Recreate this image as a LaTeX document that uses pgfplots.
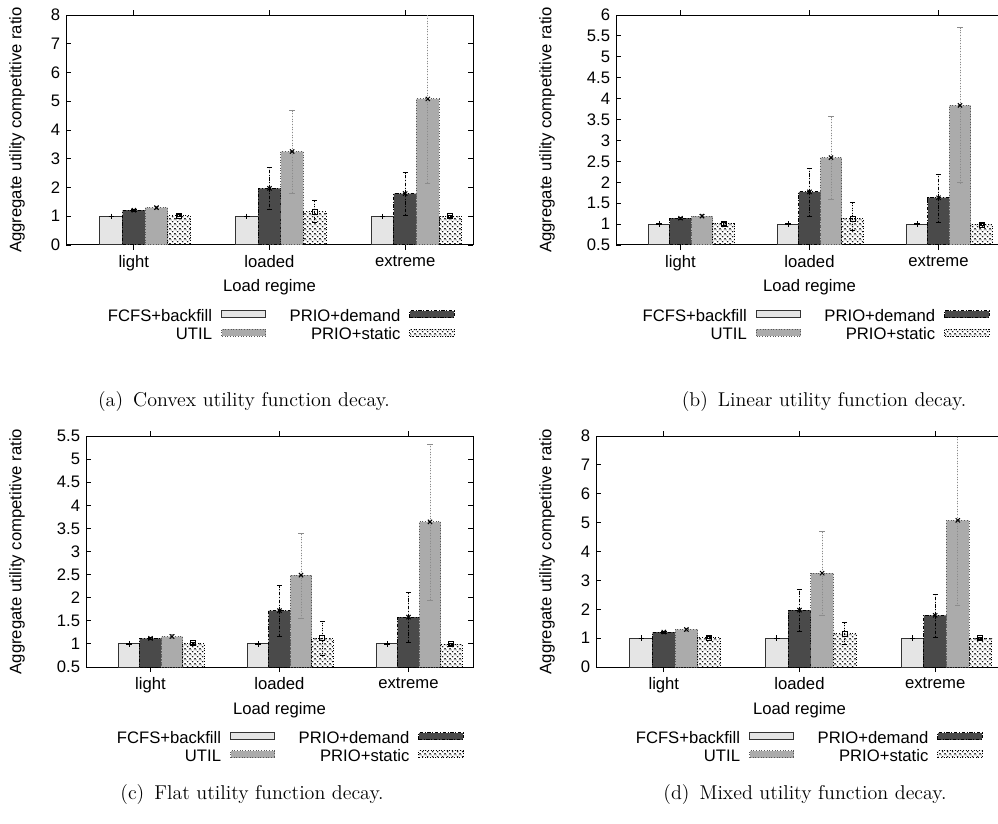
\documentclass[border=0pt]{standalone}
\usepackage{fontspec}
\setsansfont{Liberation Sans}
\usepackage{pgfplots}
\pgfplotsset{compat=1.18}
\usetikzlibrary{patterns}
\definecolor{cfcfs}{HTML}{E5E5E5}
\definecolor{cdem}{HTML}{4A4A4A}
\definecolor{cutil}{HTML}{ABABAB}
\pgfplotsset{
  leg/.style={legend image code/.code={\draw[##1] (0pt,-0.6pt) rectangle (26.6pt,3.6pt);}},
  sfcfs/.style={fill=cfcfs, draw=black!80, line width=0.6pt, mark=+,
    mark options={solid, black, mark size=1.6pt, line width=0.5pt},
    error bars/error bar style={black, solid, line width=0.4pt}, leg},
  sdem/.style={fill=cdem, draw=black, line width=0.6pt, dash pattern=on 2pt off 1pt on 0.6pt off 1pt, mark=x,
    mark options={solid, black, mark size=1.8pt, line width=0.6pt},
    error bars/error bar style={black, line width=0.5pt, dash pattern=on 2pt off 1pt on 0.6pt off 1pt}, leg},
  sutil/.style={fill=cutil, draw=black!65, line width=0.6pt, densely dotted, mark=x,
    mark options={solid, black, mark size=1.8pt, line width=0.6pt},
    error bars/error bar style={black!45, line width=0.6pt, densely dotted}, leg},
  sstat/.style={pattern=crosshatch, pattern color=black, draw=black, line width=0.6pt, densely dotted, mark=square,
    mark options={solid, black, mark size=1.5pt, line width=0.6pt},
    error bars/error bar style={black, line width=0.5pt, densely dotted}, leg},
  panel/.style={
    anchor=south west, scale only axis,
    xmin=-0.5, xmax=2.5, xtick={0,1,2}, xticklabels={light,loaded,extreme},
    tick align=inside, tick pos=both, major tick length=3pt,
    axis line style={line width=0.6pt}, tick style={line width=0.5pt, black},
    tick label style={font=\sffamily}, /pgf/number format/assume math mode=true,
    xlabel={Load regime}, ylabel={Aggregate utility competitive ratio},
    label style={font=\sffamily},
    ybar, bar width=0.1667, bar shift=0pt,
    error bars/error mark options={rotate=90, mark size=1.6pt, solid},
    legend columns=2, legend plot pos=right, legend cell align=right,
    legend style={draw=none, fill=none, inner sep=0pt, font=\sffamily,
      nodes={inner sep=0pt, text height=7.2pt, text depth=1.8pt},
      row sep=2pt,
      /tikz/column 1/.style={column sep=5.4pt},
      /tikz/column 2/.style={column sep=14pt},
      /tikz/column 3/.style={column sep=5.4pt}},
  },
}
\newcommand\capfont{\rmfamily\fontsize{12}{14}\selectfont}
\begin{document}
\begin{tikzpicture}[font=\sffamily]
\path[use as bounding box] (0,0) rectangle (598.8pt,-494.4pt);
\clip (0,0) rectangle (598.8pt,-494.4pt);
% (a)
\begin{axis}[panel, at={(39.6pt,-147pt)}, width=244.2pt, height=138pt,
  ymin=0, ymax=8, ytick={0,1,2,3,4,5,6,7,8},
  ylabel style={at={(axis description cs:-0.120,0.5)}, anchor=center},
  xlabel style={at={(axis description cs:0.5,-0.183)}, anchor=center},
  legend style={at={(0.956,-0.278)}, anchor=north east}]
\addplot[sfcfs, error bars/.cd, y dir=both, y explicit] coordinates {(-0.1667,1.00) += (0,0.01) -= (0,0.01) (0.8333,1.00) += (0,0.01) -= (0,0.01) (1.8333,1.00) += (0,0.01) -= (0,0.01)};
\addplot[sdem, error bars/.cd, y dir=both, y explicit] coordinates {(0,1.21) += (0,0.04) -= (0,0.04) (1,1.97) += (0,0.73) -= (0,0.73) (2,1.79) += (0,0.73) -= (0,0.75)};
\addplot[sutil, error bars/.cd, y dir=both, y explicit] coordinates {(0.1667,1.30) += (0,0.05) -= (0,0.05) (1.1667,3.25) += (0,1.45) -= (0,1.47) (2.1667,5.08) += (0,2.95) -= (0,2.93)};
\addplot[sstat, error bars/.cd, y dir=both, y explicit] coordinates {(0.3333,1.02) += (0,0.04) -= (0,0.04) (1.3333,1.15) += (0,0.39) -= (0,0.35) (2.3333,1.00) += (0,0.03) -= (0,0.03)};
\legend{FCFS+backfill, PRIO+demand, UTIL, PRIO+static}
\end{axis}
% (b)
\begin{axis}[panel, at={(369.6pt,-147pt)}, width=232.2pt, height=138pt,
  ymin=0.5, ymax=6, ytick={0.5,1,1.5,2,2.5,3,3.5,4,4.5,5,5.5,6},
  ylabel style={at={(axis description cs:-0.178,0.5)}, anchor=center},
  xlabel style={at={(axis description cs:0.5,-0.183)}, anchor=center},
  legend style={at={(0.966,-0.278)}, anchor=north east}]
\addplot[sfcfs, error bars/.cd, y dir=both, y explicit] coordinates {(-0.1667,1.00) += (0,0.01) -= (0,0.01) (0.8333,1.00) += (0,0.01) -= (0,0.01) (1.8333,1.00) += (0,0.01) -= (0,0.01)};
\addplot[sdem, error bars/.cd, y dir=both, y explicit] coordinates {(0,1.14) += (0,0.03) -= (0,0.03) (1,1.77) += (0,0.56) -= (0,0.58) (2,1.63) += (0,0.57) -= (0,0.59)};
\addplot[sutil, error bars/.cd, y dir=both, y explicit] coordinates {(0.1667,1.19) += (0,0.04) -= (0,0.04) (1.1667,2.59) += (0,0.98) -= (0,0.99) (2.1667,3.84) += (0,1.86) -= (0,1.85)};
\addplot[sstat, error bars/.cd, y dir=both, y explicit] coordinates {(0.3333,1.01) += (0,0.03) -= (0,0.03) (1.3333,1.13) += (0,0.38) -= (0,0.27) (2.3333,0.99) += (0,0.02) -= (0,0.02)};
\legend{FCFS+backfill, PRIO+demand, UTIL, PRIO+static}
\end{axis}
% (c)
\begin{axis}[panel, at={(51.6pt,-400.2pt)}, width=232.2pt, height=138.6pt,
  ymin=0.5, ymax=5.5, ytick={0.5,1,1.5,2,2.5,3,3.5,4,4.5,5,5.5},
  ylabel style={at={(axis description cs:-0.178,0.5)}, anchor=center},
  xlabel style={at={(axis description cs:0.5,-0.186)}, anchor=center},
  legend style={at={(0.977,-0.276)}, anchor=north east}]
\addplot[sfcfs, error bars/.cd, y dir=both, y explicit] coordinates {(-0.1667,1.00) += (0,0.01) -= (0,0.01) (0.8333,1.00) += (0,0.01) -= (0,0.01) (1.8333,1.00) += (0,0.01) -= (0,0.01)};
\addplot[sdem, error bars/.cd, y dir=both, y explicit] coordinates {(0,1.12) += (0,0.03) -= (0,0.03) (1,1.72) += (0,0.55) -= (0,0.55) (2,1.58) += (0,0.53) -= (0,0.54)};
\addplot[sutil, error bars/.cd, y dir=both, y explicit] coordinates {(0.1667,1.16) += (0,0.04) -= (0,0.04) (1.1667,2.49) += (0,0.90) -= (0,0.94) (2.1667,3.64) += (0,1.69) -= (0,1.70)};
\addplot[sstat, error bars/.cd, y dir=both, y explicit] coordinates {(0.3333,1.01) += (0,0.02) -= (0,0.02) (1.3333,1.12) += (0,0.36) -= (0,0.36) (2.3333,0.99) += (0,0.02) -= (0,0.02)};
\legend{FCFS+backfill, PRIO+demand, UTIL, PRIO+static}
\end{axis}
% (d)
\begin{axis}[panel, at={(357.6pt,-400.2pt)}, width=244.2pt, height=138.6pt,
  ymin=0, ymax=8, ytick={0,1,2,3,4,5,6,7,8},
  ylabel style={at={(axis description cs:-0.120,0.5)}, anchor=center},
  xlabel style={at={(axis description cs:0.5,-0.186)}, anchor=center},
  legend style={at={(0.951,-0.276)}, anchor=north east}]
\addplot[sfcfs, error bars/.cd, y dir=both, y explicit] coordinates {(-0.1667,1.00) += (0,0.01) -= (0,0.01) (0.8333,1.00) += (0,0.01) -= (0,0.01) (1.8333,1.00) += (0,0.01) -= (0,0.01)};
\addplot[sdem, error bars/.cd, y dir=both, y explicit] coordinates {(0,1.21) += (0,0.04) -= (0,0.04) (1,1.97) += (0,0.73) -= (0,0.73) (2,1.79) += (0,0.73) -= (0,0.75)};
\addplot[sutil, error bars/.cd, y dir=both, y explicit] coordinates {(0.1667,1.30) += (0,0.05) -= (0,0.05) (1.1667,3.25) += (0,1.45) -= (0,1.47) (2.1667,5.08) += (0,2.95) -= (0,2.93)};
\addplot[sstat, error bars/.cd, y dir=both, y explicit] coordinates {(0.3333,1.02) += (0,0.04) -= (0,0.04) (1.3333,1.15) += (0,0.39) -= (0,0.35) (2.3333,1.00) += (0,0.03) -= (0,0.03)};
\legend{FCFS+backfill, PRIO+demand, UTIL, PRIO+static}
\end{axis}
\node[font=\capfont, anchor=center] at (146.4pt,-241.2pt) {(a)\hspace{0.5em}Convex utility function decay.};
\node[font=\capfont, anchor=center] at (494.4pt,-241.2pt) {(b)\hspace{0.5em}Linear utility function decay.};
\node[font=\capfont, anchor=center] at (151.2pt,-477pt) {(c)\hspace{0.5em}Flat utility function decay.};
\node[font=\capfont, anchor=center] at (483pt,-477pt) {(d)\hspace{0.5em}Mixed utility function decay.};
\end{tikzpicture}
\end{document}
